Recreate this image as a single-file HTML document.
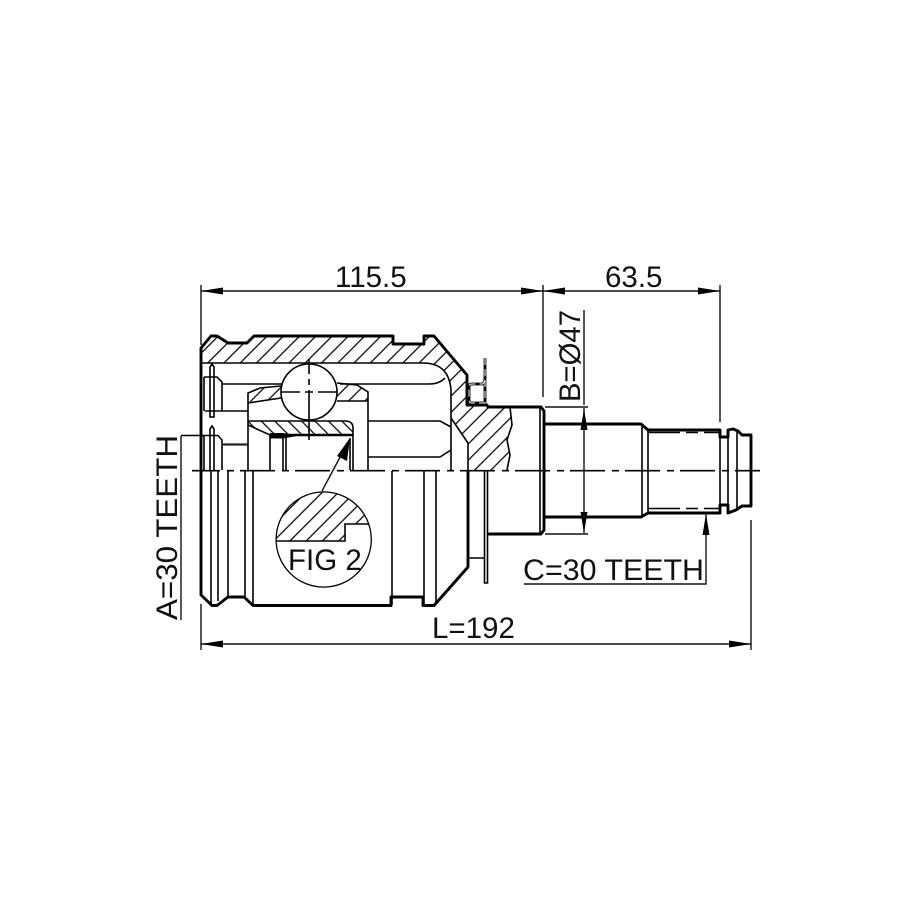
<!DOCTYPE html>
<html><head><meta charset="utf-8"><style>
html,body{margin:0;padding:0;background:#fff}
svg{display:block}
text{font-family:"Liberation Sans",sans-serif;font-size:29.5px;fill:#111}
.t{fill:none;stroke:#000;stroke-width:2.9;stroke-linejoin:round}
.m{fill:none;stroke:#000;stroke-width:1.6}
.d{fill:none;stroke:#111;stroke-width:1.4}
.h{fill:url(#h1);stroke:none}
.b{fill:url(#h2);stroke:none}
</style></head><body>
<svg width="915" height="915" viewBox="0 0 915 915" xmlns="http://www.w3.org/2000/svg">
<defs>
<pattern id="h1" width="11.5" height="11.5" patternUnits="userSpaceOnUse" patternTransform="rotate(45)"><line x1="1" y1="0" x2="1" y2="11.5" stroke="#000" stroke-width="1.25"/></pattern>
<pattern id="h2" width="9.5" height="9.5" patternUnits="userSpaceOnUse" patternTransform="rotate(-45)"><line x1="1" y1="0" x2="1" y2="9.5" stroke="#000" stroke-width="1.25"/></pattern>
<clipPath id="cc"><circle cx="323.7" cy="539.5" r="47.6"/></clipPath>
</defs>
<rect width="915" height="915" fill="#fff"/>

<!-- hatching -->
<path class="h" d="M201 348L211 336H217L228 343H247L254 336H393V344H424V336H434L468 375V405H487V407H510L512 425L507 440L510 455L507 470H468V443L451 418V390Q449 363 423 363H201Z"/>
<path class="h" d="M248 393L260 388L281 386V398L250 403Z"/>
<path class="h" d="M337 383L357 385L368 392V401H337Z"/>
<path class="b" d="M248 421H350L353 428L352 435H285L270 435L249 425Z"/>

<!-- outline -->
<path class="t" d="M201 471V348L211 336H217L228 343H247L254 336H393V344H424V336H434L467 375V405H487L488 407H541L544 411V530L541 534H487"/>
<path class="t" d="M201 470V595L212 605.500H217L228 597H244L253 605.500H391V597H423V605.500H434L468 567V471"/>
<path class="t" d="M545 424H641L648 430H720V437H728V430L733 429L738 431L742 435H751V506H742L736 510L728 513V505H720V513H648L641 517H545"/>
<path d="M270 435H353" stroke="#000" stroke-width="2.6" fill="none"/>
<path d="M270 433H283L297 436L283 438.500H270Z" fill="#000"/>

<!-- inner housing lines -->
<path class="m" d="M201 363H423Q449 363 451 390V470"/>
<path class="m" d="M451 418L468 443V471"/>
<path class="m" d="M510 407L512 425L507 440L510 455L507 470"/>
<path class="m" d="M340 384H430Q439 384 445 378"/>
<path class="m" d="M368 421H440L451 427"/>
<path class="m" d="M368 457H440L451 450"/>
<path class="m" d="M222 384H282M205 411H248"/>
<path class="m" d="M204 377V411M204 377H217L222 382V411"/>
<path class="m" d="M210 367L212 364L214 367V417H210Z"/>
<path class="m" d="M210 470V429L212 426L214 429V470"/>
<path class="m" d="M181 435.500H218L222 440V470M204 436V470"/>
<path d="M223 444.500H248" stroke="#222" stroke-width="2.200" fill="none"/>

<!-- cage -->
<path class="m" d="M248 470V393L260 388L281 386M248 403L281 398"/>
<path class="m" d="M337 383L357 385L368 392V470M337 401H368"/>
<path class="m" d="M248 421H345Q353 421 353 428V436V470M248 425L270 435V470M283 436V470M286 436V470M350 438V470"/>
<circle cx="309" cy="392" r="28" fill="#fff" stroke="#000" stroke-width="1.6"/>
<path class="m" d="M309 359V374M309 379V385M309 390V440M281 392H300M305 392H313M318 392H337"/>

<!-- lower verticals -->
<path class="m" d="M211 471V605M218 471V601M228 471V597M245 471V597M253 471V605M392 471V605M424 471V605M436 471V602"/>
<path class="m" d="M468 558H485"/>
<path class="m" d="M484.500 470V583H487.500V470"/>

<!-- boot clip -->
<path d="M485 358V403H472Q469 403 469 400V387Q469 384 472 384H483L485 380" fill="none" stroke="#000" stroke-width="2.800"/>
<path d="M485 358V403H472Q469 403 469 400V387Q469 384 472 384H483L485 380" fill="none" stroke="#fff" stroke-width="1" stroke-dasharray="7 4"/>

<!-- shaft details -->
<path class="m" d="M540 408V534"/>
<path class="m" d="M642 424V517M648 430V513"/>
<path class="m" d="M648 432.500H680M686 432.500H698M704 432.500H720M648 508.500H680M686 508.500H698M704 508.500H720"/>
<path class="m" d="M720 437V505M728 437V505M737 431V510"/>

<!-- axis -->
<line x1="192" y1="470.700" x2="760" y2="470.700" stroke="#000" stroke-width="1.600" stroke-dasharray="35 7 7 6" stroke-dashoffset="7"/>

<!-- FIG 2 -->
<circle cx="323.700" cy="539.500" r="47.600" fill="#fff" stroke="#000" stroke-width="1.300"/>
<path d="M270 541H345V524H375V485H270Z" fill="url(#h1)" clip-path="url(#cc)"/>
<path class="m" clip-path="url(#cc)" d="M270 541H345V524H375"/>
<text x="288" y="570">FIG 2</text>
<path class="d" d="M322 491L346 446"/>
<path d="M350 438L347 461L337 456Z" fill="#000"/>

<!-- dimensions -->
<path class="d" d="M201 285V345M543 285V397M720 285V422M201 291H720"/>
<path d="M201 291L223 287.500V294.500Z M543 291L521 287.500V294.500Z M543 291L565 287.500V294.500Z M720 291L698 287.500V294.500Z" fill="#000"/>
<text x="335" y="287">115.5</text>
<text x="605" y="287">63.5</text>

<path class="d" d="M584 310V405M545 407H588M545 534H588M584 408V533"/>
<path d="M584 409L580.500 430H587.500Z M584 533L580.500 512H587.500Z" fill="#000"/>
<text transform="translate(580,402) rotate(-90)" textLength="92" lengthAdjust="spacingAndGlyphs">B=Ø47</text>

<path class="d" d="M181 620V436"/>
<text transform="translate(177,620) rotate(-90)" textLength="185" lengthAdjust="spacingAndGlyphs">A=30 TEETH</text>

<path class="d" d="M524 584H706V514"/>
<path d="M706 514L702.500 535H709.500Z" fill="#000"/>
<text x="523" y="580" textLength="181" lengthAdjust="spacingAndGlyphs">C=30 TEETH</text>

<path class="d" d="M201 604V650M751 520V650M201 644H751"/>
<path d="M201 644L223 640.500V647.500Z M751 644L729 640.500V647.500Z" fill="#000"/>
<text x="432" y="638">L=192</text>
</svg>
</body></html>
